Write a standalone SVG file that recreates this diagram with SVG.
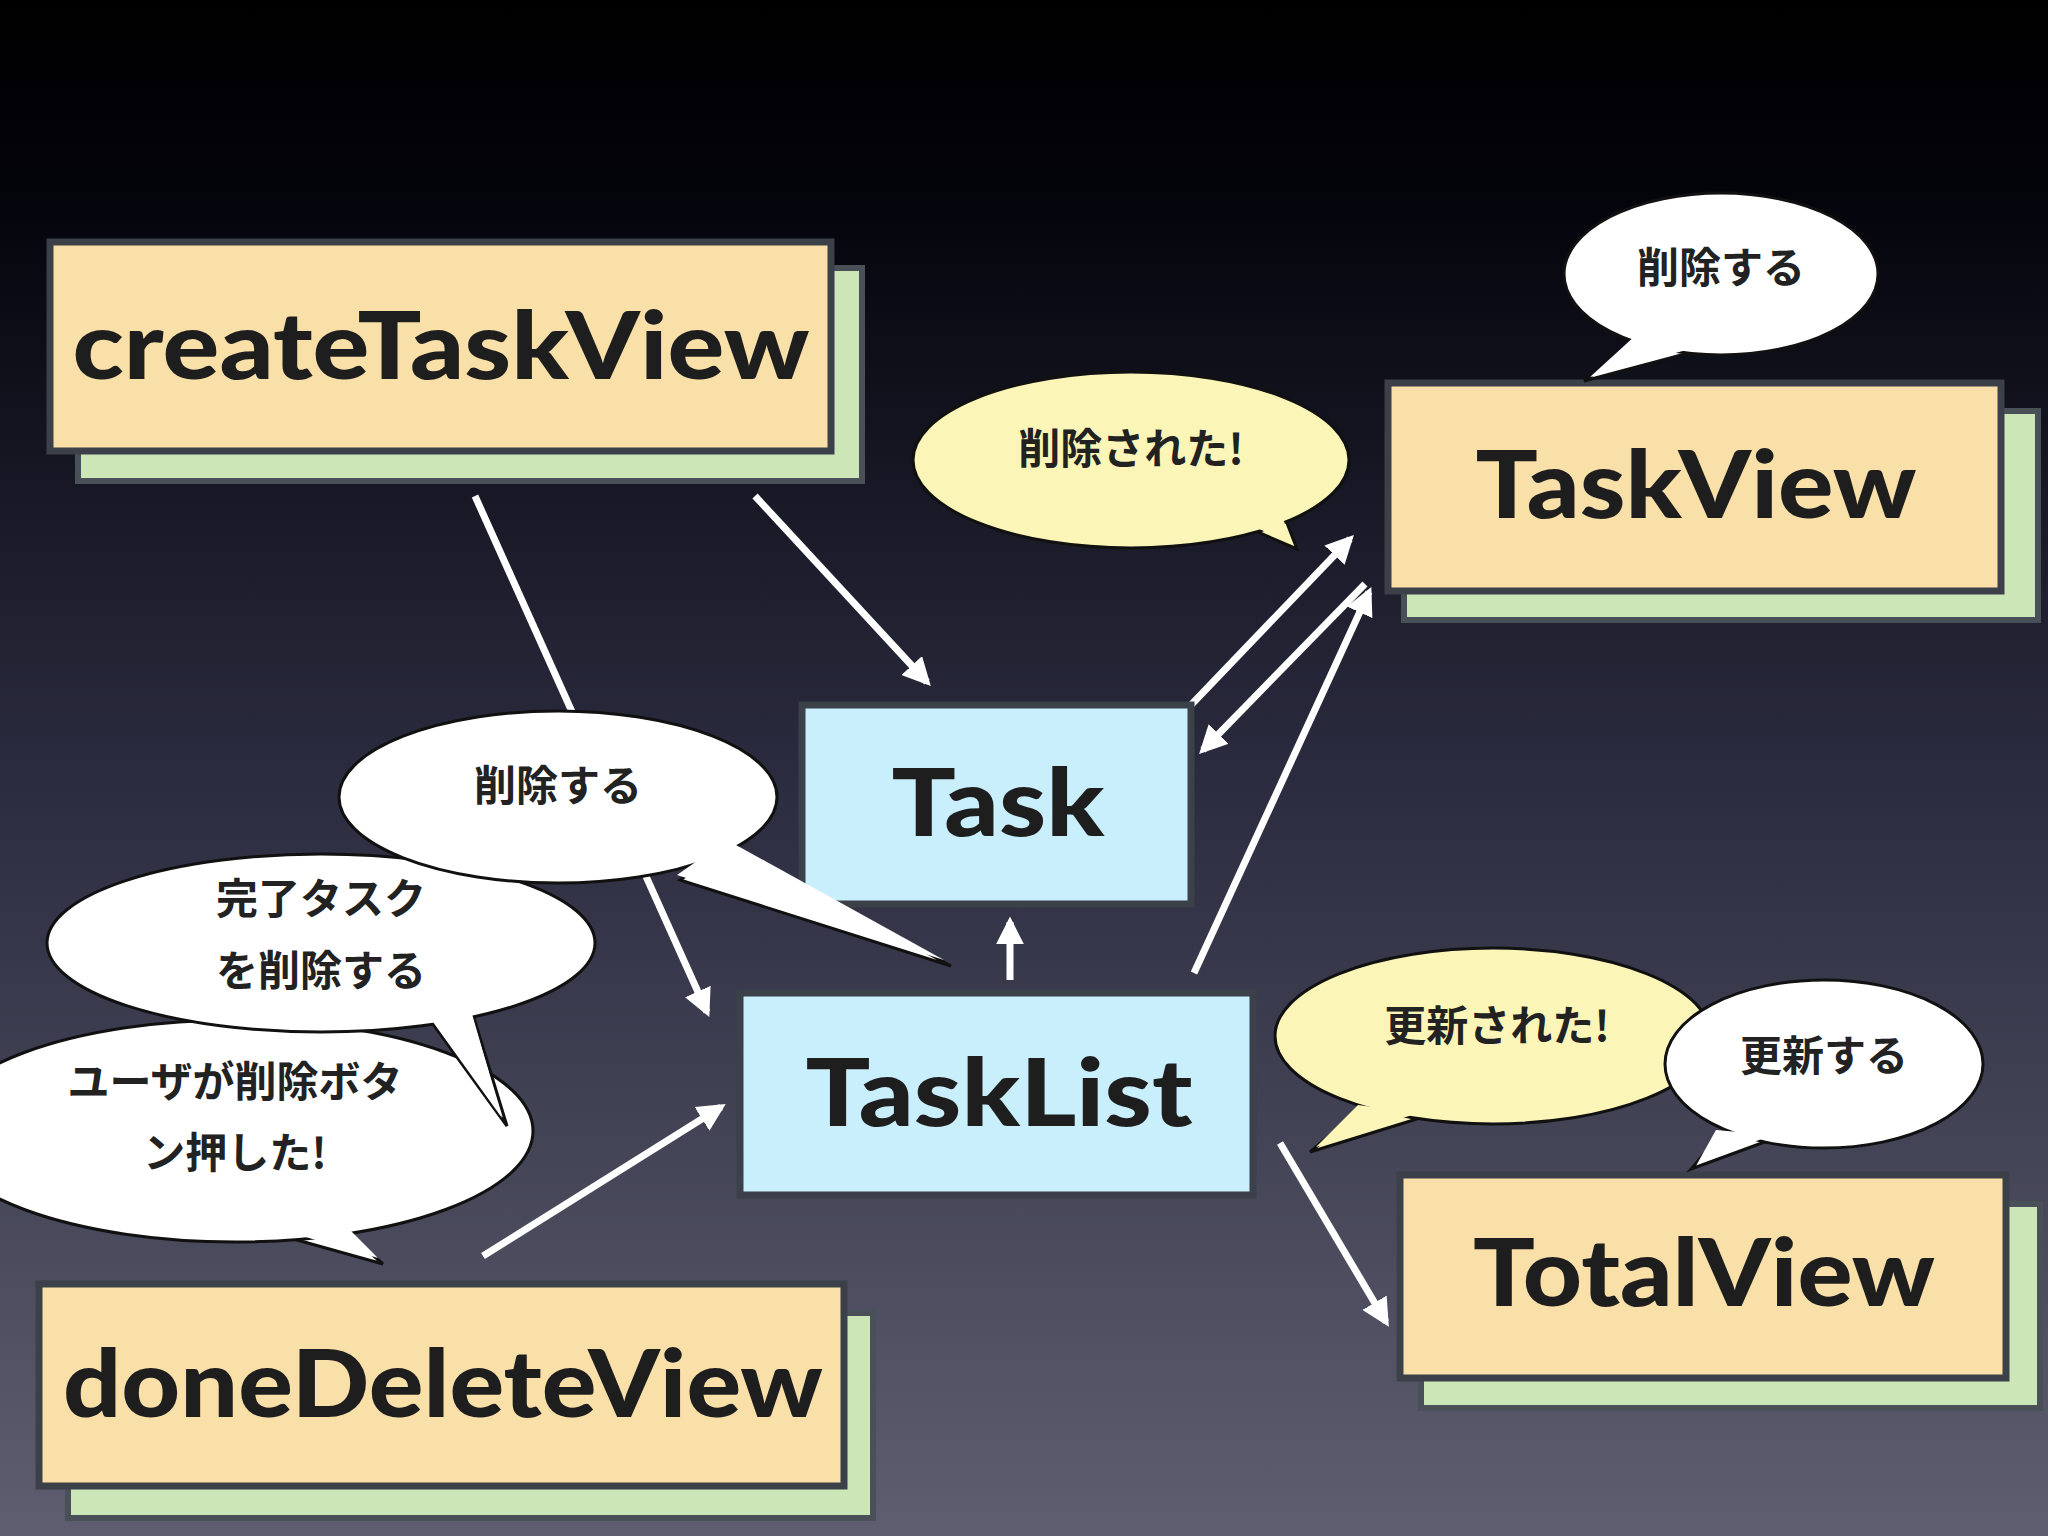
<svg xmlns="http://www.w3.org/2000/svg" width="2048" height="1536" viewBox="0 0 2048 1536">
<defs>
<linearGradient id="bg" x1="0" y1="0" x2="0" y2="1">
<stop offset="0" stop-color="#000000"/>
<stop offset="0.12" stop-color="#03030a"/>
<stop offset="0.5" stop-color="#2a2b3e"/>
<stop offset="1" stop-color="#5e5e70"/>
</linearGradient>
<marker id="ah" viewBox="0 0 10 10" refX="8" refY="5" markerWidth="4" markerHeight="4" orient="auto-start-reverse">
<path d="M0,0 L10,5 L0,10 z" fill="#ffffff"/>
</marker>
</defs>
<style>
.box{fill:#f9e0a8;stroke:#3b4049;stroke-width:7}
.sh{fill:#cde6b8;stroke:#4a5058;stroke-width:6}
.blue{fill:#c9eefc;stroke:#3b4049;stroke-width:7}
.lbl{font-family:"Lato","Open Sans",sans-serif;font-weight:900;fill:#1e1e1e;text-anchor:middle}
.jp{font-family:"Noto Sans CJK JP",sans-serif;font-weight:700;font-size:42px;fill:#222;text-anchor:middle}
.w{fill:#ffffff;stroke:#111;stroke-width:3}
.y{fill:#fbf6b8;stroke:#111;stroke-width:3}
.wf{fill:#ffffff}
.yf{fill:#fbf6b8}
.ln{stroke:#ffffff;stroke-width:7;fill:none}
</style>
<rect width="2048" height="1536" fill="url(#bg)"/>

<g id="connectors">
<line class="ln" x1="755" y1="496" x2="927" y2="682" marker-end="url(#ah)"/>
<line class="ln" x1="475" y1="496" x2="707" y2="1012" marker-end="url(#ah)"/>
<line class="ln" x1="1191" y1="705" x2="1350" y2="539" marker-end="url(#ah)"/>
<line class="ln" x1="1365" y1="584" x2="1203" y2="750" marker-end="url(#ah)"/>
<line class="ln" x1="1194" y1="973" x2="1369" y2="592" marker-end="url(#ah)"/>
<line class="ln" x1="1010" y1="980" x2="1010" y2="922" marker-end="url(#ah)"/>
<line class="ln" x1="483" y1="1256" x2="721" y2="1107" marker-end="url(#ah)"/>
<line class="ln" x1="1280" y1="1143" x2="1386" y2="1322" marker-end="url(#ah)"/>
</g>

<g id="createTaskView">
<rect class="sh" x="78" y="268" width="784" height="213"/>
<rect class="box" x="50" y="242" width="781" height="209"/>
<text class="lbl" x="441" y="379" font-size="94" textLength="737" lengthAdjust="spacingAndGlyphs">createTaskView</text>
</g>
<g id="TaskView">
<rect class="sh" x="1404" y="411" width="634" height="209"/>
<rect class="box" x="1388" y="383" width="613" height="208"/>
<text class="lbl" x="1696" y="518" font-size="94" textLength="441" lengthAdjust="spacingAndGlyphs">TaskView</text>
</g>
<g id="Task">
<rect class="blue" x="802" y="705" width="389" height="199"/>
<text class="lbl" x="998" y="836" font-size="94" textLength="213" lengthAdjust="spacingAndGlyphs">Task</text>
</g>
<g id="TaskList">
<rect class="blue" x="740" y="993" width="513" height="202"/>
<text class="lbl" x="999" y="1126" font-size="94" textLength="387" lengthAdjust="spacingAndGlyphs">TaskList</text>
</g>
<g id="TotalView">
<rect class="sh" x="1421" y="1204" width="619" height="204"/>
<rect class="box" x="1400" y="1175" width="606" height="203"/>
<text class="lbl" x="1704" y="1306" font-size="94" textLength="462" lengthAdjust="spacingAndGlyphs">TotalView</text>
</g>
<g id="doneDeleteView">
<rect class="sh" x="68" y="1313" width="805" height="205"/>
<rect class="box" x="39" y="1284" width="805" height="202"/>
<text class="lbl" x="443" y="1417" font-size="94" textLength="760" lengthAdjust="spacingAndGlyphs">doneDeleteView</text>
</g>

<g id="bubble-taskview">
<polygon class="w" points="1640,340 1700,350 1584,381"/>
<ellipse class="w" cx="1721" cy="274" rx="157" ry="81"/>
<polygon class="wf" points="1636,335 1704,345 1590,377"/>
<text class="jp" x="1721" y="283">削除する</text>
</g>
<g id="bubble-deleted">
<polygon class="y" points="1230,520 1280,505 1297,549"/>
<ellipse class="y" cx="1131" cy="460" rx="218" ry="88"/>
<polygon class="yf" points="1226,515 1276,500 1292,543"/>
<text class="jp" x="1131" y="464">削除された!</text>
</g>
<g id="bubble-user">
<polygon class="w" points="290,1238 350,1235 383,1264"/>
<ellipse class="w" cx="235" cy="1131" rx="298" ry="111"/>
<polygon class="wf" points="292,1233 350,1230 378,1258"/>
<text class="jp" x="235" y="1097">ユーザが削除ボタ</text>
<text class="jp" x="235" y="1168">ン押した!</text>
</g>
<g id="bubble-done">
<polygon class="w" points="430,1020 470,1005 507,1126"/>
<ellipse class="w" cx="321" cy="943" rx="274" ry="89"/>
<polygon class="wf" points="428,1015 468,1000 502,1118"/>
<text class="jp" x="321" y="914">完了タスク</text>
<text class="jp" x="321" y="986">を削除する</text>
</g>
<g id="bubble-delete-mid">
<polygon class="w" points="680,880 730,845 951,966"/>
<ellipse class="w" cx="558" cy="797" rx="219" ry="86"/>
<polygon class="wf" points="677,875 727,840 944,960"/>
<text class="jp" x="558" y="801">削除する</text>
</g>
<g id="bubble-updated">
<polygon class="y" points="1360,1110 1420,1118 1310,1152"/>
<ellipse class="y" cx="1493" cy="1036" rx="218" ry="88"/>
<polygon class="yf" points="1358,1105 1418,1113 1316,1147"/>
<text class="jp" x="1497" y="1041">更新された!</text>
</g>
<g id="bubble-update">
<polygon class="w" points="1720,1135 1770,1140 1691,1169"/>
<ellipse class="w" cx="1824" cy="1064" rx="159" ry="84"/>
<polygon class="wf" points="1716,1130 1772,1135 1697,1164"/>
<text class="jp" x="1824" y="1071">更新する</text>
</g>
</svg>
